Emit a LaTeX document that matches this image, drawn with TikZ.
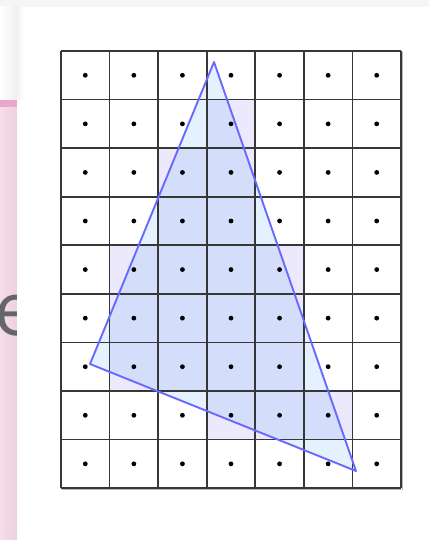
\documentclass[tikz,border=0pt]{standalone}
\usepackage{fontspec}
\newfontfamily\efont{Open Sans}
\usetikzlibrary{calc}
\definecolor{pinkbar}{RGB}{234,168,200}
\definecolor{pinkbg}{RGB}{245,221,233}
\definecolor{pinkdk}{RGB}{236,208,222}
\definecolor{lav}{RGB}{237,233,252}
\definecolor{trifill}{RGB}{229,241,254}
\definecolor{overlap}{RGB}{212,222,250}
\definecolor{triline}{RGB}{105,105,255}
\definecolor{gridc}{RGB}{55,55,55}
\tikzset{
  gridline/.style={draw=gridc, line width=1.6pt},
  cellshade/.style={fill=lav},
  pixdot/.style={fill=black, draw=none},
  triedge/.style={draw=triline, line width=1.9pt, line join=round},
}
\begin{document}
\begin{tikzpicture}[x=1pt,y=-1pt]
\useasboundingbox (0,0) rectangle (429,540);
% page background
\fill[white] (0,0) rectangle (429,540);
\fill[gray!8] (0,0) rectangle (429,7);
% left strip
\shade[left color=white, right color=gray!12] (0,7) rectangle (17,100);
\fill[pinkbar] (0,100) rectangle (17,108);
\shade[left color=pinkbg, right color=pinkdk] (0,108) rectangle (17,540);
\begin{scope}
  \clip (0,108) rectangle (17,540);
  \node[anchor=base west, inner sep=0pt, text=gray!80!black, font=\efont\fontsize{74}{80}\selectfont] (eglyph) at (-6,335) {e};
\end{scope}
% card
\fill[white] (17,7) rectangle (429,540);
\shade[left color=gray!10, right color=white] (17,7) rectangle (24,100);
% grid geometry
\def\gx{61}\def\gy{51}\def\cs{48.57}
% shaded pixels (row,col)
\foreach \r/\c in {1/3,2/2,2/3,3/2,3/3,4/1,4/2,4/3,4/4,5/1,5/2,5/3,5/4,6/1,6/2,6/3,6/4,7/3,7/4,7/5}{
  \fill[cellshade] ({\gx+\c*\cs},{\gy+\r*\cs}) rectangle ({\gx+(\c+1)*\cs},{\gy+(\r+1)*\cs});
}
% triangle
\coordinate (A) at (214,62);
\coordinate (B) at (90,364);
\coordinate (C) at (356,471);
\fill[trifill] (A) -- (B) -- (C) -- cycle;
\begin{scope}
  \clip (A) -- (B) -- (C) -- cycle;
  \foreach \r/\c in {1/3,2/2,2/3,3/2,3/3,4/1,4/2,4/3,4/4,5/1,5/2,5/3,5/4,6/1,6/2,6/3,6/4,7/3,7/4,7/5}{
    \fill[overlap] ({\gx+\c*\cs},{\gy+\r*\cs}) rectangle ({\gx+(\c+1)*\cs},{\gy+(\r+1)*\cs});
  }
\end{scope}
% grid
\foreach \i in {0,...,7}{
  \draw[gridline] ({\gx+\i*\cs},\gy) -- ({\gx+\i*\cs},{\gy+9*\cs});
}
\foreach \j in {0,...,9}{
  \draw[gridline] (\gx,{\gy+\j*\cs}) -- ({\gx+7*\cs},{\gy+\j*\cs});
}
\draw[gray!55, line width=1.2pt] ({\gx+7*\cs+1.5},{\gy+1}) -- ({\gx+7*\cs+1.5},{\gy+9*\cs+1.5}) -- ({\gx+1},{\gy+9*\cs+1.5});
% dots
\foreach \r in {0,...,8}{
  \foreach \c in {0,...,6}{
    \fill[pixdot] ({\gx+(\c+0.5)*\cs},{\gy+(\r+0.5)*\cs}) circle (2.4);
  }
}
% triangle outline
\draw[triedge] (A) -- (B) -- (C) -- cycle;
\end{tikzpicture}
\end{document}
